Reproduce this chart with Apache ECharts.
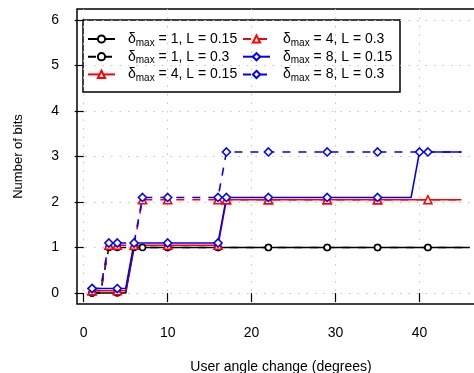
<!DOCTYPE html>
<html>
<head>
<meta charset="utf-8">
<script src="https://cdn.jsdelivr.net/npm/echarts@6/dist/echarts.min.js"></script>
<style>
  html, body { margin: 0; padding: 0; background: #fff; }
  #chart { width: 474px; height: 373px; }
</style>
</head>
<body>
<div id="chart"></div>
<script>
// tick values
const xTicks = [0, 10, 20, 30, 40];
const yTicks = [0, 1, 2, 3, 4, 5, 6];

// delta_max = 1, L = 0.15
const d1sX = [1, 4, 5, 6, 10, 16, 22, 29, 35, 41, 46];
const d1sY = [0, 0, 0, 1, 1, 1, 1, 1, 1, 1, 1];
const d1sMarks = [1, 4, 6, 10, 16, 22, 29, 35, 41];
// delta_max = 1, L = 0.3
const d1dX = [1, 2, 3, 4, 7, 10, 16, 22, 29, 35, 41, 46];
const d1dY = [0, 0, 1, 1, 1, 1, 1, 1, 1, 1, 1, 1];
const d1dMarks = [1, 3, 4, 7, 10, 16, 22, 29, 35, 41];
// delta_max = 4, L = 0.15
const d4sX = [1, 4, 5, 6, 10, 16, 17, 22, 29, 35, 41, 45];
const d4sY = [0.05, 0.05, 0.05, 1.05, 1.05, 1.05, 2.05, 2.05, 2.05, 2.05, 2.05, 2.05];
const d4sMarks = [1, 4, 6, 10, 16, 17, 22, 29, 35, 41];
// delta_max = 4, L = 0.3
const d4dX = [1, 2, 3, 4, 6, 7, 10, 16, 17, 22, 29, 35, 45];
const d4dY = [0.05, 0.05, 1.05, 1.05, 1.05, 2.05, 2.05, 2.05, 2.05, 2.05, 2.05, 2.05, 2.05];
const d4dMarks = [1, 3, 4, 7, 10, 16, 17, 22, 29, 35];
// delta_max = 8, L = 0.15
const d8sX = [1, 4, 5, 6, 10, 16, 17, 22, 29, 35, 39, 40, 41, 45];
const d8sY = [0.1, 0.1, 0.1, 1.1, 1.1, 1.1, 2.1, 2.1, 2.1, 2.1, 2.1, 3.1, 3.1, 3.1];
const d8sMarks = [1, 4, 6, 10, 16, 17, 22, 29, 35, 41];
// delta_max = 8, L = 0.3
const d8dX = [1, 2, 3, 4, 6, 7, 10, 16, 17, 22, 29, 35, 40, 45];
const d8dY = [0.1, 0.1, 1.1, 1.1, 1.1, 2.1, 2.1, 2.1, 3.1, 3.1, 3.1, 3.1, 3.1, 3.1];
const d8dMarks = [1, 3, 4, 7, 10, 16, 17, 22, 29, 35, 40];

const FONT = 'Liberation Sans, Arial, Helvetica, sans-serif';

const makeSeries = (name, xs, ys, marks, color, symbol, size, dashed) => ({
    name,
    type: 'line',
    symbol,
    symbolSize: size,
    color,
    lineStyle: { color, width: 1.6, type: dashed ? [8, 8] : 'solid' },
    itemStyle: { color: '#fff', borderColor: color, borderWidth: 1.6 },
    emphasis: { disabled: true },
    animation: false,
    data: xs.map((x, i) => ({
        value: [x, ys[i]],
        symbol: marks.includes(x) ? symbol : 'none'
    }))
});

const series = [
    makeSeries('δmax = 1, L = 0.15', d1sX, d1sY, d1sMarks, '#000', 'circle', 6, false),
    makeSeries('δmax = 1, L = 0.3', d1dX, d1dY, d1dMarks, '#000', 'circle', 6, true),
    makeSeries('δmax = 4, L = 0.15', d4sX, d4sY, d4sMarks, '#f00', 'triangle', 8, false),
    makeSeries('δmax = 4, L = 0.3', d4dX, d4dY, d4dMarks, '#f00', 'triangle', 8, true),
    makeSeries('δmax = 8, L = 0.15', d8sX, d8sY, d8sMarks, '#00f', 'diamond', 8, false),
    makeSeries('δmax = 8, L = 0.3', d8dX, d8dY, d8dMarks, '#00f', 'diamond', 8, true)
];

const legendBase = {
    orient: 'vertical',
    padding: 0,
    itemWidth: 27,
    itemHeight: 9,
    itemGap: -0.3,
    selectedMode: false,
    formatter: (name) => name.replace('δmax', 'δ{sub|max}'),
    textStyle: {
        fontFamily: FONT,
        fontSize: 14,
        color: '#000',
        padding: [0, 0, 0, 8],
        lineHeight: 14,
        rich: {
            sub: { fontFamily: FONT, fontSize: 10, lineHeight: 6, padding: [8, 0, 0, 0] }
        }
    }
};

const axisCommon = {
    type: 'value',
    axisLine: { show: false },
    axisTick: { show: true, inside: false, length: 9, lineStyle: { color: '#000', width: 1.2 } },
    splitLine: { show: true, lineStyle: { color: '#c4c4c4', width: 1, type: [1.5, 7] } },
    nameLocation: 'middle',
    nameTextStyle: { fontFamily: FONT, fontSize: 14, color: '#000' }
};

const chart = echarts.init(document.getElementById('chart'));
chart.setOption({
    backgroundColor: '#fff',
    animation: false,
    grid: {
        left: 77, top: 9, width: 408, height: 295,
        outerBoundsMode: 'none',
        containLabel: false,
        show: true, borderColor: '#000', borderWidth: 1.5, backgroundColor: 'transparent'
    },
    xAxis: Object.assign({}, axisCommon, {
        min: -0.8, max: 47.8,
        name: 'User angle change (degrees)',
        nameGap: 56,
        axisTick: Object.assign({}, axisCommon.axisTick, { customValues: xTicks }),
        axisLabel: { customValues: xTicks, margin: 22, fontFamily: FONT, fontSize: 14, color: '#000' }
    }),
    yAxis: Object.assign({}, axisCommon, {
        min: -0.24, max: 6.24,
        name: 'Number of bits',
        nameGap: 52,
        nameTextStyle: { fontFamily: FONT, fontSize: 13, color: '#000' },
        axisTick: Object.assign({}, axisCommon.axisTick, { customValues: yTicks }),
        axisLabel: { customValues: yTicks, margin: 18, fontFamily: FONT, fontSize: 14, color: '#000' }
    }),
    legend: [
        Object.assign({}, legendBase, { left: 87, top: 30, data: series.slice(0, 3).map(s => s.name) }),
        Object.assign({}, legendBase, { left: 242, top: 30, data: series.slice(3).map(s => s.name) })
    ],
    graphic: [{
        type: 'rect',
        shape: { x: 83, y: 20, width: 317, height: 72 },
        style: { fill: '#fff', stroke: '#000', lineWidth: 1.5 },
        z: -1,
        zlevel: 0
    }],
    series
});
</script>
</body>
</html>
